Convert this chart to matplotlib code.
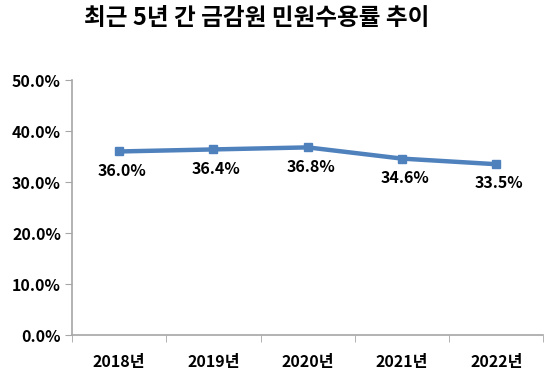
import numpy as np
import matplotlib.pyplot as plt
from matplotlib.ticker import FuncFormatter

plt.rcParams['font.family'] = ['Noto Sans CJK KR', 'DejaVu Sans']

years = ['2018년', '2019년', '2020년', '2021년', '2022년']
rates = [36.0, 36.4, 36.8, 34.6, 33.5]
labels = ['36.0%', '36.4%', '36.8%', '34.6%', '33.5%']

fig = plt.figure(figsize=(5.5, 3.76), dpi=100)
ax = fig.add_axes([0.131, 0.109, 0.857, 0.678])

x = np.arange(len(years))
ax.plot(x, rates, color='#4F81BD', lw=3.2, marker='s', ms=5.5,
        solid_capstyle='round', zorder=3)

for xi, v, t in zip(x, rates, labels):
    ax.annotate(t, (xi, v), xytext=(2, -8), textcoords='offset points',
                ha='center', va='top', fontsize=11.5, fontweight='semibold',
                color='black')

ax.set_xlim(-0.5, len(years) - 0.5)
ax.set_ylim(0, 50)
ax.set_yticks(np.arange(0, 51, 10))
ax.yaxis.set_major_formatter(FuncFormatter(lambda v, p: f'{v:.1f}%'))

ax.set_xticks(x)
ax.set_xticklabels(years)
ax.set_xticks(np.arange(-0.5, len(years)), minor=True)
ax.tick_params(axis='x', which='major', length=0, pad=14, labelsize=11.5)
ax.tick_params(axis='x', which='minor', length=5, color='#A6A6A6', direction='out')
ax.tick_params(axis='y', length=5, color='#A6A6A6', labelsize=11.5, pad=3)
for lbl in ax.get_xticklabels() + ax.get_yticklabels():
    lbl.set_fontweight('bold')

for s in ['top', 'right']:
    ax.spines[s].set_visible(False)
for s in ['left', 'bottom']:
    ax.spines[s].set_color('#A6A6A6')
    ax.spines[s].set_linewidth(1.2)

fig.text(0.467, 0.953, '최근 5년 간 금감원 민원수용률 추이', ha='center', va='center',
         fontsize=17, fontweight='bold')

fig.savefig('out.png', dpi=100)
